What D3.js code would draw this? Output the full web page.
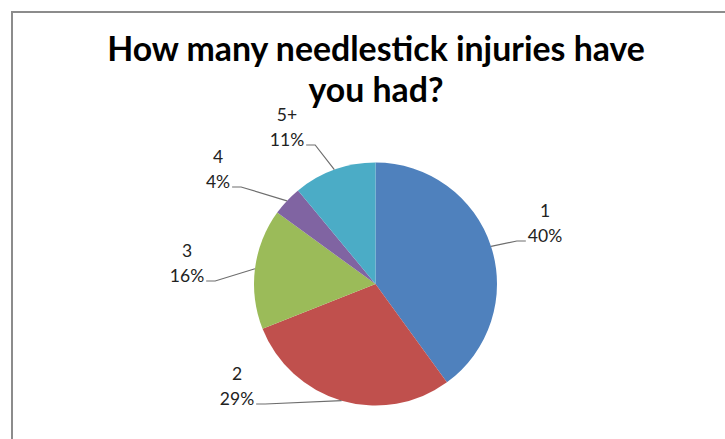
<!DOCTYPE html>
<html>
<head>
<meta charset="utf-8">
<script src="https://cdn.jsdelivr.net/npm/d3@7"></script>
<style>
  html, body { margin: 0; padding: 0; background: #fff; }
  svg { display: block; }
</style>
</head>
<body>
<svg id="chart" width="725" height="439"></svg>
<script>
// Survey answers: number of needlestick injuries
const categories = ["1", "2", "3", "4", "5+"];
const percents = [40, 29, 16, 4, 11];
const colors = ["#4F81BD", "#C0504D", "#9BBB59", "#8064A2", "#4BACC6"];
const titleLines = ["How many needlestick injuries have", "you had?"];

const W = 725, H = 439;
const cx = 375.5, cy = 284, radius = 121.5;

// label text block placement (centre x, baseline of the percentage line), and side of leader
const labelLayout = [
  { x: 545, y: 242, side: "left" },
  { x: 237, y: 405, side: "right" },
  { x: 187, y: 282, side: "right" },
  { x: 218, y: 188, side: "right" },
  { x: 287, y: 146, side: "right" }
];

const svg = d3.select("#chart");

// chart frame
svg.append("rect")
  .attr("x", 12).attr("y", 12)
  .attr("width", W + 20).attr("height", H + 20)
  .attr("fill", "#fff")
  .attr("stroke", "#8c8c8c")
  .attr("stroke-width", 2);

// title, fitted to its width
const titleFont = "Lato, 'Open Sans', sans-serif";
const title = svg.append("g");
const t1 = title.append("text")
  .attr("x", 376).attr("y", 61)
  .attr("text-anchor", "middle")
  .attr("font-family", titleFont)
  .attr("font-weight", "bold")
  .attr("font-size", 30)
  .attr("fill", "#000")
  .text(titleLines[0]);
const len = t1.node().getComputedTextLength();
const titleSize = 30 * 538 / len;
t1.attr("font-size", titleSize);
title.append("text")
  .attr("x", 376).attr("y", 102)
  .attr("text-anchor", "middle")
  .attr("font-family", titleFont)
  .attr("font-weight", "bold")
  .attr("font-size", titleSize)
  .attr("fill", "#000")
  .text(titleLines[1]);

const data = categories.map((c, i) => ({ cat: c, value: percents[i], color: colors[i], lay: labelLayout[i] }));

const pie = d3.pie().sort(null).value(d => d.value);
const arcs = pie(data);
const arc = d3.arc().innerRadius(0).outerRadius(radius);

const g = svg.append("g").attr("transform", `translate(${cx},${cy})`);
g.selectAll("path.slice")
  .data(arcs)
  .join("path")
  .attr("class", "slice")
  .attr("d", arc)
  .attr("fill", d => d.data.color);

// data labels with leader lines from the slice edge
const labelFont = "Lato, 'Open Sans', sans-serif";
const labelSize = 17.5;
const labels = svg.append("g");
arcs.forEach(a => {
  const mid = (a.startAngle + a.endAngle) / 2;
  const ex = cx + radius * Math.sin(mid);
  const ey = cy - radius * Math.cos(mid);
  const lay = a.data.lay;

  const pctText = labels.append("text")
    .attr("x", lay.x).attr("y", lay.y)
    .attr("text-anchor", "middle")
    .attr("font-family", labelFont)
    .attr("font-size", labelSize)
    .attr("fill", "#222")
    .text(a.data.value + "%");
  labels.append("text")
    .attr("x", lay.x).attr("y", lay.y - 25)
    .attr("text-anchor", "middle")
    .attr("font-family", labelFont)
    .attr("font-size", labelSize)
    .attr("fill", "#222")
    .text(a.data.cat);

  const w = pctText.node().getComputedTextLength();
  let x0, x1;
  if (lay.side === "right") {
    x0 = lay.x + w / 2 + 2;
    x1 = x0 + 9;
  } else {
    x0 = lay.x - w / 2 - 2;
    x1 = x0 - 9;
  }
  const ly = lay.y - 1;
  labels.append("path")
    .attr("d", d3.line()([[x0, ly], [x1, ly], [ex, ey]]))
    .attr("fill", "none")
    .attr("stroke", "#6e6e6e")
    .attr("stroke-width", 1.2);
});
</script>
</body>
</html>
